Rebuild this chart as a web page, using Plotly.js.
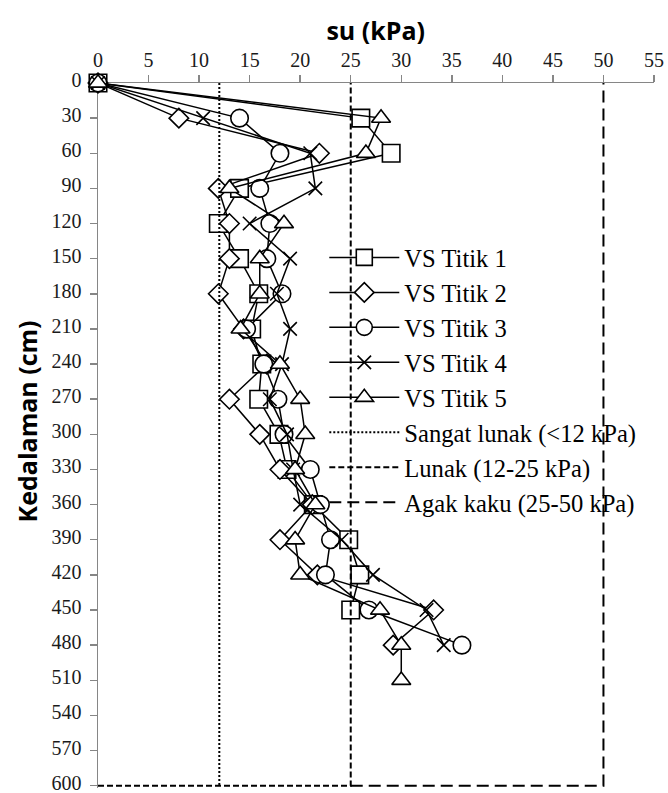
<!DOCTYPE html>
<html>
<head>
<meta charset="utf-8">
<script src="https://cdn.plot.ly/plotly-3.0.1.min.js"></script>
<style>
  html, body { margin: 0; padding: 0; background: #ffffff; }
  #chart { width: 668px; height: 793px; }
</style>
</head>
<body>
<div id="chart"></div>
<script>
// Depth of each vane shear reading (cm)
const depth1 = [0, 30, 60, 90, 120, 150, 180, 210, 240, 270, 300, 330, 360, 390, 420, 450];
const depth2 = [0, 30, 60, 90, 120, 150, 180, 210, 240, 270, 300, 330, 360, 390, 420, 450, 480];
const depth3 = [0, 30, 60, 90, 120, 150, 180, 210, 240, 270, 300, 330, 360, 390, 420, 450, 480];
const depth4 = [0, 30, 60, 90, 120, 150, 180, 210, 240, 270, 300, 330, 360, 390, 420, 450, 480];
const depth5 = [0, 30, 60, 90, 120, 150, 180, 210, 240, 270, 300, 330, 360, 390, 420, 450, 480, 510];

// Undrained shear strength su (kPa) at each point
const su1 = [0, 26.0, 29.0, 14.0, 11.9, 14.0, 15.9, 15.2, 16.2, 15.9, 17.9, 18.7, 21.3, 24.8, 25.9, 25.0];
const su2 = [0, 8.0, 21.9, 11.9, 13.0, 13.0, 11.9, 14.4, 16.7, 13.0, 16.0, 18.0, 21.2, 18.0, 21.7, 33.2, 29.2];
const su3 = [0, 14.0, 18.0, 16.0, 17.0, 16.7, 18.2, 14.7, 16.4, 17.8, 18.4, 21.0, 22.0, 23.0, 22.5, 26.8, 36.0];
const su4 = [0, 10.4, 21.0, 21.5, 15.0, 19.0, 17.7, 19.0, 18.2, 17.0, 18.7, 19.3, 20.0, 24.1, 27.2, 32.5, 34.2];
const su5 = [0, 28.0, 26.5, 13.0, 18.4, 16.0, 16.0, 14.1, 18.0, 20.0, 20.5, 19.5, 21.5, 19.5, 20.0, 27.9, 30.0, 30.0];

const seriesNames = ["VS Titik 1", "VS Titik 2", "VS Titik 3", "VS Titik 4", "VS Titik 5"];

// Consistency class boundaries (kPa) and their outline depths (cm)
const classNames = ["Sangat lunak (<12 kPa)", "Lunak (12-25 kPa)", "Agak kaku (25-50 kPa)"];
const classSu = [[12, 12], [0, 25, 25], [25, 50, 50]];
const classDepth = [[0, 600], [600, 600, 0], [600, 600, 0]];

const xTicks = [0, 5, 10, 15, 20, 25, 30, 35, 40, 45, 50, 55];
const yTicks = [0, 30, 60, 90, 120, 150, 180, 210, 240, 270, 300, 330, 360, 390, 420, 450, 480, 510, 540, 570, 600];

const seriesX = [su1, su2, su3, su4, su5];
const seriesY = [depth1, depth2, depth3, depth4, depth5];
const symbols = ["square", "diamond", "circle", "x-thin-open", "triangle-up"];
const sizes = [17.5, 15, 17.5, 13.5, 16.5];

const SERIF = "Liberation Serif";

const traces = [];
for (let i = 0; i < 5; i++) {
  const isX = symbols[i] === "x-thin-open";
  traces.push({
    type: "scatter",
    mode: "lines+markers",
    name: seriesNames[i],
    x: seriesX[i],
    y: seriesY[i],
    cliponaxis: false,
    line: { color: "#000000", width: 1.5 },
    marker: {
      symbol: symbols[i],
      size: sizes[i],
      color: isX ? "#000000" : "#ffffff",
      line: { color: "#000000", width: 1.6 }
    }
  });
}

const dashes = ["2px,2px", "6px,3px", "12px,6px"];
for (let j = 0; j < 3; j++) {
  traces.push({
    type: "scatter",
    mode: "lines",
    name: classNames[j],
    x: classSu[j],
    y: classDepth[j],
    line: { color: "#000000", width: 2, dash: dashes[j] }
  });
}

function axisStyle() {
  return {
    tickmode: "array",
    ticks: "outside",
    ticklen: 7,
    tickwidth: 1.5,
    tickcolor: "#868686",
    showline: true,
    linecolor: "#868686",
    linewidth: 1.5,
    showgrid: false,
    zeroline: false,
    ticklabeloverflow: "allow",
    tickfont: { family: SERIF, size: 20, color: "#1a1a1a" },
    layer: "below traces"
  };
}

const xaxis = Object.assign(axisStyle(), { side: "top", range: [0, 55], tickvals: xTicks });
const yaxis = Object.assign(axisStyle(), {
  range: [602, 0], tickvals: yTicks, ticklabelstandoff: 4, ticklabelshift: 3
});

const layout = {
  width: 668,
  height: 793,
  margin: { l: 97.5, r: 14, t: 83, b: 4.65, pad: 0 },
  paper_bgcolor: "#ffffff",
  plot_bgcolor: "#ffffff",
  font: { family: SERIF, size: 20, color: "#000000" },
  showlegend: true,
  title: {
    text: "su (kPa)",
    font: { family: "Open Sans", size: 25, weight: "bold", color: "#000000" },
    x: 0.5625, xref: "container", xanchor: "center",
    y: 1 - 31 / 793, yref: "container", yanchor: "middle"
  },
  xaxis: xaxis,
  yaxis: yaxis,
  annotations: [{
    text: "Kedalaman (cm)",
    textangle: -90,
    xref: "paper", yref: "paper",
    x: (26 - 97.5) / 556.5, y: (788.35 - 422) / 705.35,
    xanchor: "center", yanchor: "middle",
    showarrow: false,
    font: { family: "Open Sans", size: 25, weight: "bold", color: "#000000" }
  }],
  legend: {
    x: (324 - 97.5) / 556.5,
    y: (788.35 - 235) / 705.35,
    xanchor: "left",
    yanchor: "top",
    bgcolor: "rgba(0,0,0,0)",
    borderwidth: 0,
    itemwidth: 70,
    font: { family: SERIF, size: 24.6, color: "#000000" }
  }
};

Plotly.newPlot("chart", traces, layout, { staticPlot: true, displayModeBar: false });
</script>
</body>
</html>
